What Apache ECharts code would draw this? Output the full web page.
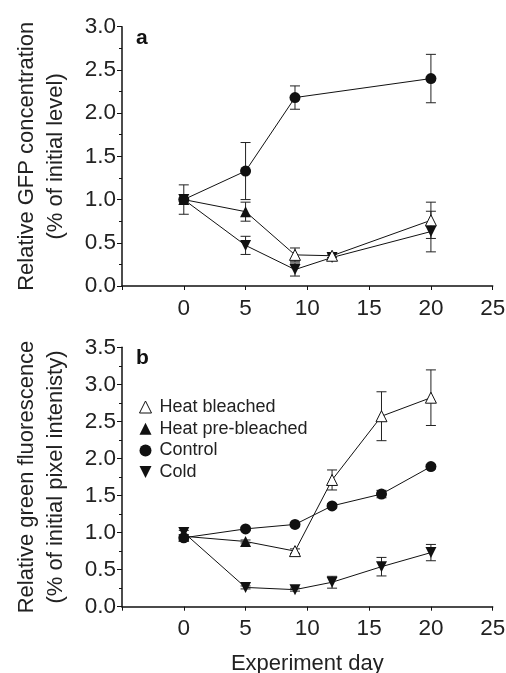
<!DOCTYPE html>
<html>
<head>
<meta charset="utf-8">
<script src="https://cdn.jsdelivr.net/npm/echarts@6/dist/echarts.min.js"></script>
<style>
  html, body { margin: 0; padding: 0; background: #fff; }
  #main { width: 506px; height: 673px; }
</style>
</head>
<body>
<div id="main"></div>
<script>
// panel a - relative GFP concentration
const aControlDays = [0, 5, 9, 20];
const aControlMean = [1.00, 1.33, 2.18, 2.40];
const aControlErr = [0.17, 0.33, 0.135, 0.28];

const aHeatPreDays = [0, 5, 9];
const aHeatPreMean = [1.00, 0.86, 0.36];
const aHeatPreErr = [0, 0.11, 0];

const aHeatBlDays = [9, 12, 20];
const aHeatBlMean = [0.36, 0.35, 0.76];
const aHeatBlErr = [0.08, 0.02, 0.21];

const aColdDays = [0, 5, 9, 12, 20];
const aColdMean = [1.00, 0.47, 0.19, 0.33, 0.63];
const aColdErr = [0, 0.105, 0.075, 0, 0.235];

// panel b - relative green fluorescence
const bHeatPreDays = [0, 5, 9];
const bHeatPreMean = [0.95, 0.88, 0.75];
const bHeatPreErr = [0, 0.02, 0];

const bHeatBlDays = [9, 12, 16, 20];
const bHeatBlMean = [0.75, 1.71, 2.57, 2.82];
const bHeatBlErr = [0.03, 0.135, 0.33, 0.375];

const bControlDays = [0, 5, 9, 12, 16, 20];
const bControlMean = [0.93, 1.05, 1.11, 1.36, 1.52, 1.89];
const bControlErr = [0.04, 0.02, 0.02, 0.03, 0.05, 0.03];

const bColdDays = [0, 5, 9, 12, 16, 20];
const bColdMean = [1.00, 0.26, 0.23, 0.33, 0.54, 0.73];
const bColdErr = [0.03, 0.02, 0.02, 0.08, 0.125, 0.11];

const xTicks = [0, 5, 10, 15, 20, 25];

const INK = '#111';
const FONT = 'Liberation Sans, Arial, sans-serif';
const downTri = 'path://M0,0 L10,0 L5,10 Z';

function pts(days, mean) {
  return days.map((d, i) => [d, mean[i]]);
}
// hide the marker of the last point (it is drawn by the next series)
function ptsHideLast(days, mean) {
  return days.map((d, i) => i === days.length - 1
    ? { value: [d, mean[i]], symbol: 'none' }
    : [d, mean[i]]);
}
function errs(days, mean, err) {
  return days.map((d, i) => [d, mean[i] - err[i], mean[i] + err[i]])
    .filter((r, i) => err[i] > 0);
}

function errSeries(data, idx) {
  return {
    type: 'custom',
    xAxisIndex: idx, yAxisIndex: idx,
    data: data,
    z: 1,
    silent: true,
    renderItem: function (params, api) {
      const lo = api.coord([api.value(0), api.value(1)]);
      const hi = api.coord([api.value(0), api.value(2)]);
      const w = 5;
      const st = { stroke: '#222', lineWidth: 1 };
      return {
        type: 'group',
        children: [
          { type: 'line', shape: { x1: lo[0], y1: lo[1], x2: hi[0], y2: hi[1] }, style: st },
          { type: 'line', shape: { x1: lo[0] - w, y1: lo[1], x2: lo[0] + w, y2: lo[1] }, style: st },
          { type: 'line', shape: { x1: hi[0] - w, y1: hi[1], x2: hi[0] + w, y2: hi[1] }, style: st }
        ]
      };
    },
    encode: { x: 0, y: [1, 2] }
  };
}

function lineSeries(name, data, idx, symbol, open, rotate) {
  return {
    name: name,
    type: 'line',
    xAxisIndex: idx, yAxisIndex: idx,
    data: data,
    symbol: symbol,
    symbolSize: 11,
    symbolRotate: rotate || 0,
    showAllSymbol: true,
    z: open ? 4 : 3,
    lineStyle: { color: INK, width: 1 },
    itemStyle: open
      ? { color: '#fff', borderColor: INK, borderWidth: 1 }
      : { color: INK, borderWidth: 0 },
    emphasis: { disabled: true }
  };
}

function xAxisCfg(idx, withName) {
  return {
    type: 'value', gridIndex: idx,
    min: -5, max: 25, interval: 5,
    axisLine: { onZero: false, lineStyle: { color: INK, width: 1.5 } },
    axisTick: { length: 4, lineStyle: { color: INK } },
    axisLabel: {
      color: '#222', fontSize: 22.5, fontFamily: FONT, margin: 11,
      formatter: v => (xTicks.indexOf(v) >= 0 ? String(v) : '')
    },
    splitLine: { show: false },
    name: withName ? 'Experiment day' : '',
    nameLocation: 'middle',
    nameGap: 46,
    nameMoveOverlap: false,
    nameTextStyle: { color: '#222', fontSize: 22, fontFamily: FONT }
  };
}

function yAxisCfg(idx, max, name) {
  return {
    type: 'value', gridIndex: idx,
    min: 0, max: max, interval: 0.5,
    axisLine: { show: true, onZero: false, lineStyle: { color: INK, width: 1.5 } },
    axisTick: { show: true, length: 5, lineStyle: { color: INK } },
    minorTick: { show: true, splitNumber: 2, length: 3, lineStyle: { color: INK } },
    axisLabel: {
      color: '#222', fontSize: 22.5, fontFamily: FONT, margin: 6,
      formatter: v => v.toFixed(1)
    },
    splitLine: { show: false },
    name: name,
    nameLocation: 'middle',
    nameRotate: 90,
    nameGap: 52,
    nameMoveOverlap: false,
    nameTextStyle: { color: '#222', fontSize: 22, fontFamily: FONT, lineHeight: 29 }
  };
}

const chart = echarts.init(document.getElementById('main'), null, { renderer: 'canvas' });

chart.setOption({
  backgroundColor: '#fff',
  animation: false,
  title: [
    { text: 'a', left: 131, top: 23, textStyle: { fontSize: 21, fontWeight: 'bold', color: INK, fontFamily: FONT } },
    { text: 'b', left: 131, top: 343, textStyle: { fontSize: 21, fontWeight: 'bold', color: INK, fontFamily: FONT } }
  ],
  grid: [
    { left: 122, top: 26.7, width: 370.7, height: 259.3, outerBoundsMode: 'none' },
    { left: 122, top: 347.3, width: 370.7, height: 259.4, outerBoundsMode: 'none' }
  ],
  xAxis: [xAxisCfg(0, false), xAxisCfg(1, true)],
  yAxis: [
    yAxisCfg(0, 3.0, 'Relative GFP concentration\n(% of initial level)'),
    yAxisCfg(1, 3.5, 'Relative green fluorescence\n(% of initial pixel intenisty)')
  ],
  legend: {
    orient: 'vertical',
    left: 134, top: 393,
    itemWidth: 12, itemHeight: 12, itemGap: 3.7,
    textStyle: { color: '#222', fontSize: 18, fontFamily: FONT, lineHeight: 18, padding: [0, 0, 0, 3] },
    selectedMode: false,
    data: [
      { name: 'Heat bleached', icon: 'triangle', itemStyle: { color: '#fff', borderColor: INK, borderWidth: 1 } },
      { name: 'Heat pre-bleached', icon: 'triangle', itemStyle: { color: INK, borderWidth: 0 } },
      { name: 'Control', icon: 'circle', itemStyle: { color: INK, borderWidth: 0 } },
      { name: 'Cold', icon: downTri, itemStyle: { color: INK, borderWidth: 0 } }
    ]
  },
  series: [
    // panel a
    errSeries(errs(aControlDays, aControlMean, aControlErr), 0),
    errSeries(errs(aHeatPreDays, aHeatPreMean, aHeatPreErr), 0),
    errSeries(errs(aHeatBlDays, aHeatBlMean, aHeatBlErr), 0),
    errSeries(errs(aColdDays, aColdMean, aColdErr), 0),
    lineSeries('a-heat-pre', ptsHideLast(aHeatPreDays, aHeatPreMean), 0, 'triangle', false),
    lineSeries('a-heat-bl', pts(aHeatBlDays, aHeatBlMean), 0, 'triangle', true),
    lineSeries('a-cold', pts(aColdDays, aColdMean), 0, 'triangle', false, 180),
    lineSeries('a-control', pts(aControlDays, aControlMean), 0, 'circle', false),
    // panel b
    errSeries(errs(bHeatPreDays, bHeatPreMean, bHeatPreErr), 1),
    errSeries(errs(bHeatBlDays, bHeatBlMean, bHeatBlErr), 1),
    errSeries(errs(bControlDays, bControlMean, bControlErr), 1),
    errSeries(errs(bColdDays, bColdMean, bColdErr), 1),
    lineSeries('Heat pre-bleached', ptsHideLast(bHeatPreDays, bHeatPreMean), 1, 'triangle', false),
    lineSeries('Heat bleached', pts(bHeatBlDays, bHeatBlMean), 1, 'triangle', true),
    lineSeries('Control', pts(bControlDays, bControlMean), 1, 'circle', false),
    lineSeries('Cold', pts(bColdDays, bColdMean), 1, 'triangle', false, 180)
  ]
});
</script>
</body>
</html>
